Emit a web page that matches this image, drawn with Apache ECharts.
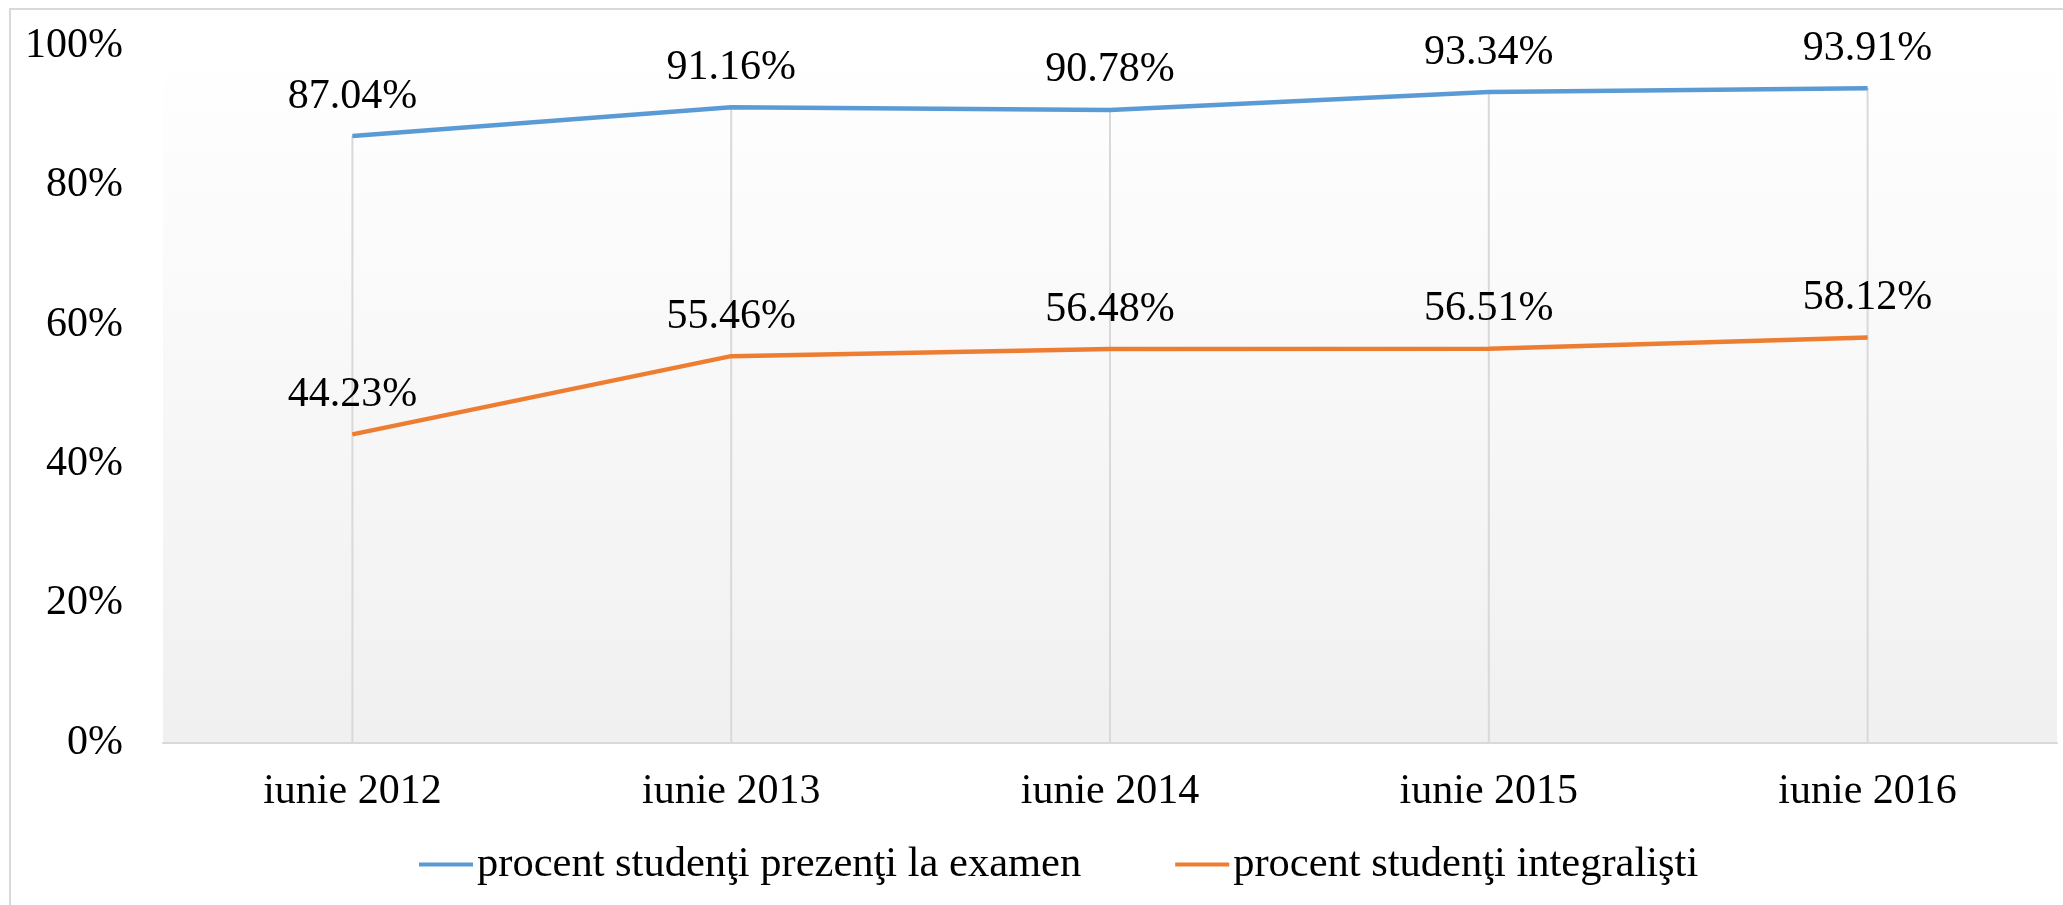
<!DOCTYPE html>
<html>
<head>
<meta charset="utf-8">
<script src="https://cdn.jsdelivr.net/npm/echarts@6/dist/echarts.min.js"></script>
<style>
html,body{margin:0;padding:0;background:#fff;}
#chart{width:2063px;height:905px;}
</style>
</head>
<body>
<div id="chart"></div>
<script>
const categories = ['iunie 2012', 'iunie 2013', 'iunie 2014', 'iunie 2015', 'iunie 2016'];
const seriesNames = ['procent studenţi prezenţi la examen', 'procent studenţi integralişti'];
const prezenti = [87.04, 91.16, 90.78, 93.34, 93.91];
const integralisti = [44.23, 55.46, 56.48, 56.51, 58.12];
const yTicks = [0, 20, 40, 60, 80, 100];

const dropLines = prezenti.map((v, i) => Math.max(v, integralisti[i]));
const FONT = 'Liberation Serif';
const FS = 42;

const chart = echarts.init(document.getElementById('chart'));
chart.setOption({
  animation: false,
  backgroundColor: '#fff',
  textStyle: { fontFamily: FONT },
  graphic: [{
    type: 'rect',
    shape: { x: 10, y: 9, width: 2200, height: 1100 },
    style: { fill: 'none', stroke: '#d9d9d9', lineWidth: 2 },
    silent: true
  }],
  grid: {
    left: 163, right: 6, top: 45.7, bottom: 905 - 742.7,
    show: true, borderWidth: 0,
    backgroundColor: {
      type: 'linear', x: 0, y: 0, x2: 0, y2: 1,
      colorStops: [{ offset: 0, color: '#ffffff' }, { offset: 1, color: '#f0f0f0' }]
    }
  },
  legend: {
    data: seriesNames,
    left: 414, top: 838,
    icon: 'rect', itemWidth: 54, itemHeight: 4, itemGap: 94,
    textStyle: { fontFamily: FONT, fontSize: 42.5, color: '#000', padding: [0, 0, 0, -1] }
  },
  xAxis: {
    type: 'category', data: categories, boundaryGap: true,
    axisLine: { lineStyle: { color: '#d9d9d9', width: 2 } },
    axisTick: { show: false },
    axisLabel: { fontFamily: FONT, fontSize: FS, color: '#000', margin: 28 },
    splitLine: { show: false }
  },
  yAxis: {
    type: 'value', min: 0, max: 100, interval: 20,
    axisLine: { show: false }, axisTick: { show: false },
    splitLine: { show: false },
    axisLabel: {
      fontFamily: FONT, fontSize: FS, color: '#000', margin: 40,
      formatter: v => yTicks.includes(v) ? v + '%' : ''
    }
  },
  series: [
    {
      name: 'drop', type: 'bar', data: dropLines, barWidth: 2, z: 1,
      itemStyle: { color: '#d9d9d9' }, silent: true, legendHoverLink: false
    },
    {
      name: seriesNames[0], type: 'line', data: prezenti, z: 3,
      symbol: 'circle', symbolSize: 1, showSymbol: true,
      lineStyle: { color: '#5B9BD5', width: 4.5 }, itemStyle: { color: '#5B9BD5' },
      labelLayout: { hideOverlap: false },
      label: { show: true, position: 'top', distance: 18, fontFamily: FONT, fontSize: FS, color: '#000',
        formatter: p => p.value.toFixed(2) + '%' }
    },
    {
      name: seriesNames[1], type: 'line', data: integralisti, z: 3,
      symbol: 'circle', symbolSize: 1, showSymbol: true,
      lineStyle: { color: '#ED7D31', width: 4.5 }, itemStyle: { color: '#ED7D31' },
      labelLayout: { hideOverlap: false },
      label: { show: true, position: 'top', distance: 18, fontFamily: FONT, fontSize: FS, color: '#000',
        formatter: p => p.value.toFixed(2) + '%' }
    }
  ]
});
</script>
</body>
</html>
